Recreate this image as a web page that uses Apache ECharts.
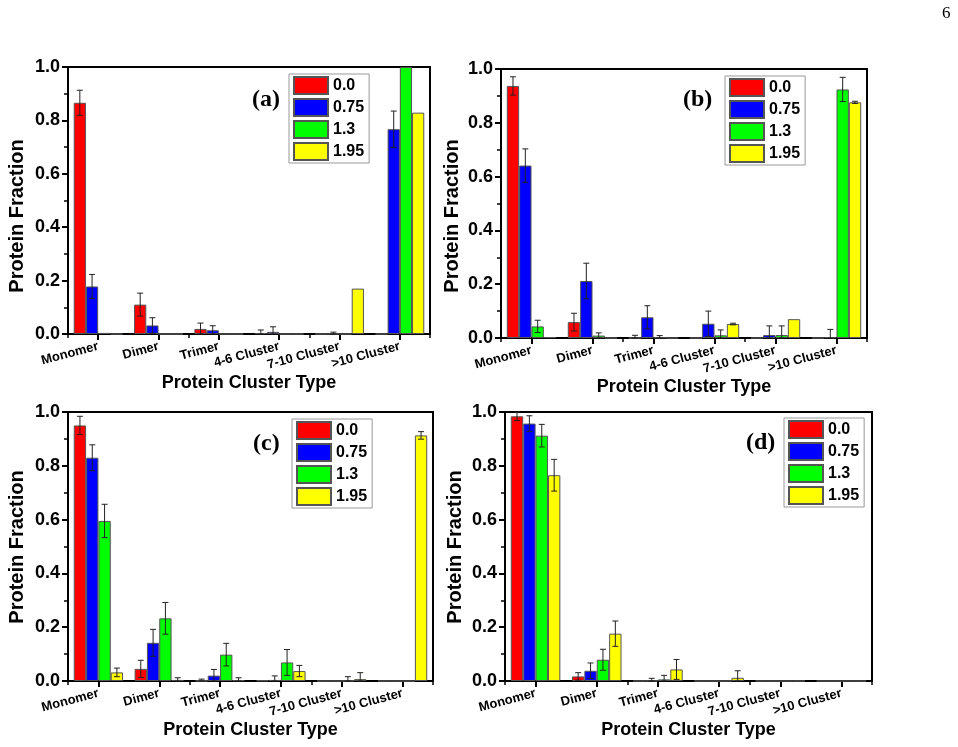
<!DOCTYPE html>
<html>
<head>
<meta charset="utf-8">
<script src="https://cdn.jsdelivr.net/npm/echarts@6/dist/echarts.min.js"></script>
<style>html,body{margin:0;padding:0;background:#fff}#c{width:958px;height:747px}</style>
</head>
<body>
<div id="c"></div>
<script>
// ---- data ----
const categories = ['Monomer', 'Dimer', 'Trimer', '4-6 Cluster', '7-10 Cluster', '>10 Cluster'];
const seriesNames = ['0.0', '0.75', '1.3', '1.95'];
const panelLabels = ['(a)', '(b)', '(c)', '(d)'];
const yTickStep = 0.2;

// panel (a)
const aVal00  = [0.866, 0.110, 0.019, 0.003, 0.000, 0.000];
const aErr00  = [0.047, 0.043, 0.022, 0.012, 0.000, 0.000];
const aVal075 = [0.178, 0.032, 0.014, 0.008, 0.001, 0.767];
const aErr075 = [0.045, 0.029, 0.017, 0.019, 0.006, 0.068];
const aVal13  = [0.004, 0.000, 0.000, 0.000, 0.000, 1.000];
const aErr13  = [0.000, 0.000, 0.000, 0.000, 0.000, 0.000];
const aVal195 = [0.000, 0.000, 0.000, 0.000, 0.170, 0.829];
const aErr195 = [0.000, 0.000, 0.000, 0.000, 0.000, 0.000];

// panel (b)
const bVal00  = [0.937, 0.059, 0.000, 0.000, 0.000, 0.000];
const bErr00  = [0.034, 0.033, 0.010, 0.000, 0.000, 0.000];
const bVal075 = [0.641, 0.212, 0.077, 0.053, 0.011, 0.003];
const bErr075 = [0.062, 0.066, 0.043, 0.047, 0.034, 0.029];
const bVal13  = [0.043, 0.009, 0.002, 0.010, 0.011, 0.924];
const bErr13  = [0.023, 0.010, 0.007, 0.020, 0.034, 0.045];
const bVal195 = [0.003, 0.000, 0.000, 0.052, 0.070, 0.876];
const bErr195 = [0.000, 0.000, 0.000, 0.003, 0.000, 0.004];

// panel (c)
const cVal00  = [0.950, 0.045, 0.001, 0.002, 0.000, 0.000];
const cErr00  = [0.034, 0.032, 0.006, 0.000, 0.000, 0.000];
const cVal075 = [0.830, 0.142, 0.020, 0.004, 0.000, 0.000];
const cErr075 = [0.048, 0.050, 0.023, 0.015, 0.000, 0.000];
const cVal13  = [0.595, 0.233, 0.098, 0.069, 0.001, 0.000];
const cErr13  = [0.062, 0.059, 0.042, 0.048, 0.015, 0.000];
const cVal195 = [0.032, 0.004, 0.003, 0.037, 0.007, 0.913];
const cErr195 = [0.016, 0.008, 0.009, 0.021, 0.024, 0.014];

// panel (d)
const dVal00  = [0.984, 0.017, 0.000, 0.000, 0.000, 0.000];
const dErr00  = [0.016, 0.014, 0.000, 0.000, 0.000, 0.000];
const dVal075 = [0.957, 0.038, 0.001, 0.000, 0.000, 0.000];
const dErr075 = [0.029, 0.029, 0.009, 0.000, 0.000, 0.000];
const dVal13  = [0.912, 0.079, 0.006, 0.000, 0.000, 0.000];
const dErr13  = [0.042, 0.039, 0.015, 0.000, 0.000, 0.000];
const dVal195 = [0.765, 0.176, 0.043, 0.012, 0.000, 0.000];
const dErr195 = [0.059, 0.047, 0.037, 0.026, 0.000, 0.000];

const panelValues = [
  [aVal00, aVal075, aVal13, aVal195],
  [bVal00, bVal075, bVal13, bVal195],
  [cVal00, cVal075, cVal13, cVal195],
  [dVal00, dVal075, dVal13, dVal195]
];
const panelErrors = [
  [aErr00, aErr075, aErr13, aErr195],
  [bErr00, bErr075, bErr13, bErr195],
  [cErr00, cErr075, cErr13, cErr195],
  [dErr00, dErr075, dErr13, dErr195]
];

// ---- layout / style ----
const colors = ['#ff0000', '#0000ff', '#00ff00', '#ffff00'];
const FONT = "'Liberation Sans', Arial, sans-serif";
const SERIF = "'Liberation Serif', 'Times New Roman', serif";
const grids = [
  {left: 68, top: 67, width: 362, height: 267},
  {left: 501, top: 69, width: 366, height: 269},
  {left: 68, top: 412, width: 365, height: 269},
  {left: 505, top: 412, width: 367, height: 269}
];
const legendPos = [
  {left: 289, top: 74}, {left: 725, top: 76}, {left: 292, top: 419}, {left: 784, top: 418}
];
const labelPos = [[252, 100], [683, 100], [253, 444], [746, 443]];
const yTitlePos = [[17, 216], [452, 216], [17, 547], [455, 547]];
const catGap = 0.19;

const xAxes = [], yAxes = [], series = [], legends = [], graphics = [];
grids.forEach((g, p) => {
  xAxes.push({
    type: 'category', gridIndex: p, data: categories, position: 'bottom',
    axisLine: {show: true, lineStyle: {color: '#000', width: 2}},
    axisTick: {show: true, alignWithLabel: true, length: 6, lineStyle: {color: '#000', width: 2}},
    axisLabel: {rotate: 15, margin: 12, fontSize: 13, fontWeight: 'bold', color: '#000', fontFamily: FONT, interval: 0},
    name: 'Protein Cluster Type', nameLocation: 'middle', nameGap: 40,
    nameTextStyle: {fontSize: 18, fontWeight: 'bold', color: '#000', fontFamily: FONT},
    splitLine: {show: false}
  });
  xAxes.push({
    type: 'category', gridIndex: p, data: categories, position: 'bottom',
    axisLine: {show: false},
    axisTick: {show: true, alignWithLabel: false, length: 4, lineStyle: {color: '#000', width: 1.5}},
    axisLabel: {show: false}, splitLine: {show: false}
  });
  yAxes.push({
    type: 'value', gridIndex: p, min: 0, max: 1, interval: yTickStep,
    axisLine: {show: true, lineStyle: {color: '#000', width: 2}},
    axisTick: {show: true, length: 6, lineStyle: {color: '#000', width: 2}},
    minorTick: {show: true, splitNumber: 2, length: 4, lineStyle: {color: '#000', width: 1.5}},
    axisLabel: {fontSize: 18, fontWeight: 'bold', color: '#000', fontFamily: FONT, margin: 8,
      formatter: v => v.toFixed(1)},
    splitLine: {show: false}
  });
  for (let s = 0; s < 4; s++) {
    series.push({
      type: 'bar', name: seriesNames[s], xAxisIndex: 2 * p, yAxisIndex: p,
      data: panelValues[p][s], barGap: '0%', barCategoryGap: (catGap * 100) + '%',
      itemStyle: {color: colors[s], borderColor: '#555', borderWidth: 1},
      emphasis: {disabled: true}, animation: false
    });
  }
  for (let s = 0; s < 4; s++) {
    const data = [];
    panelErrors[p][s].forEach((e, i) => { if (e > 0) data.push([i, panelValues[p][s][i], e]); });
    series.push({
      type: 'custom', xAxisIndex: 2 * p, yAxisIndex: p, z: 5, animation: false, silent: true,
      data: data, encode: {x: 0, y: 1},
      renderItem: (params, api) => {
        const ci = api.value(0), v = api.value(1), e = api.value(2);
        const base = api.coord([ci, v]);
        const band = api.size([1, 0])[0];
        const bw = band * (1 - catGap) / 4;
        const x = base[0] + (s - 1.5) * bw;
        const yHi = api.coord([ci, Math.min(v + e, 1)])[1];
        const yLo = api.coord([ci, Math.max(v - e, 0)])[1];
        const st = {stroke: '#222', lineWidth: 1};
        const cap = 3;
        return {type: 'group', children: [
          {type: 'line', shape: {x1: x, y1: yHi, x2: x, y2: yLo}, style: st},
          {type: 'line', shape: {x1: x - cap, y1: yHi, x2: x + cap, y2: yHi}, style: st},
          {type: 'line', shape: {x1: x - cap, y1: yLo, x2: x + cap, y2: yLo}, style: st}
        ]};
      }
    });
  }
  legends.push({
    data: seriesNames, orient: 'vertical', left: legendPos[p].left, top: legendPos[p].top,
    itemWidth: 34, itemHeight: 17, itemGap: 3, padding: [2, 5, 2, 4], icon: 'rect',
    borderColor: '#999', borderWidth: 1, backgroundColor: '#fff', selectedMode: false,
    textStyle: {fontSize: 16, fontWeight: 'bold', color: '#000', fontFamily: FONT}
  });
  graphics.push({
    type: 'text', x: labelPos[p][0], y: labelPos[p][1],
    style: {text: panelLabels[p], font: 'bold 24px ' + SERIF, fill: '#000', verticalAlign: 'middle', align: 'left'}
  });
  graphics.push({
    type: 'text', x: yTitlePos[p][0], y: yTitlePos[p][1], rotation: Math.PI / 2,
    style: {text: 'Protein Fraction', font: 'bold 20px ' + FONT, fill: '#000', verticalAlign: 'middle', align: 'center'}
  });
});
graphics.push({type: 'text', x: 942, y: 14, style: {text: '6', font: '17px ' + SERIF, fill: '#000', verticalAlign: 'middle'}});

const chart = echarts.init(document.getElementById('c'), null, {renderer: 'canvas'});
chart.setOption({
  backgroundColor: '#fff',
  animation: false,
  grid: grids.map(g => Object.assign({show: true, borderColor: '#000', borderWidth: 2, backgroundColor: 'transparent'}, g)),
  xAxis: xAxes, yAxis: yAxes, series: series, legend: legends, graphic: graphics
});
</script>
</body>
</html>
